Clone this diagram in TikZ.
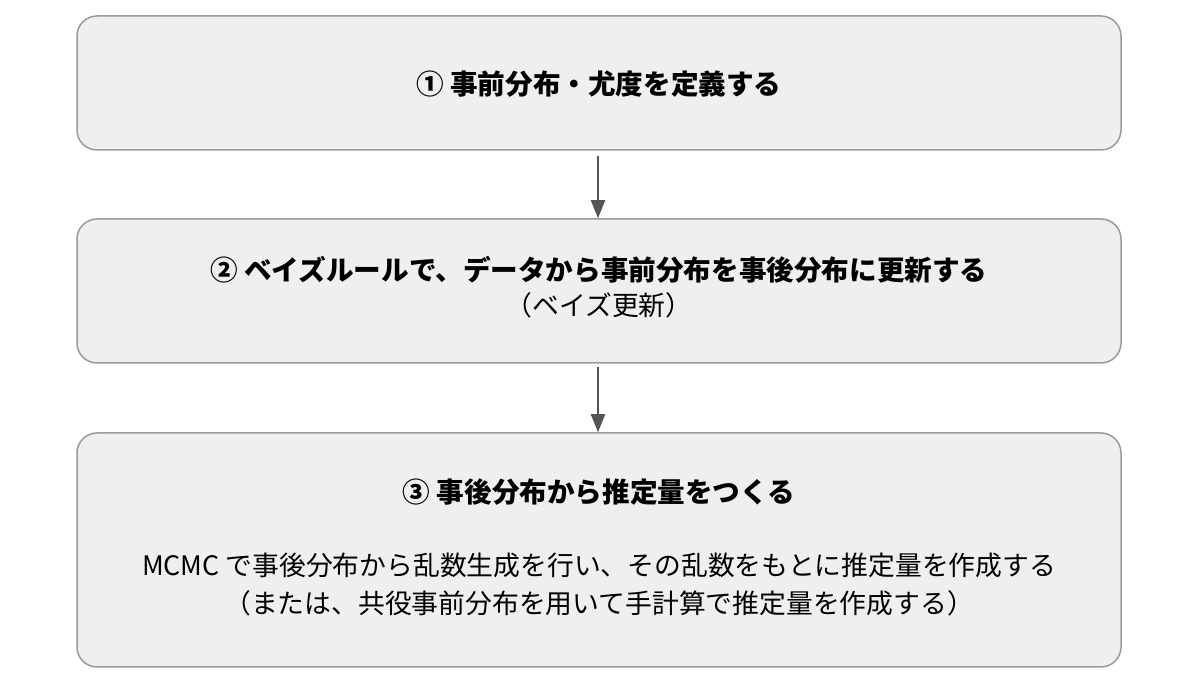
\documentclass[tikz,border=0pt]{standalone}
\usepackage{fontspec}
\setmainfont{Noto Sans CJK JP}
\usepackage{tikz}
\usetikzlibrary{arrows.meta,positioning,calc}
\definecolor{boxfill}{HTML}{EFEFEF}
\definecolor{boxline}{HTML}{9A9A9A}
\definecolor{arrline}{HTML}{555555}

\begin{document}
\begin{tikzpicture}[x=0.5pt,y=-0.5pt,%
        stepbox/.style={draw=boxline, fill=boxfill, line width=0.75pt,
          rounded corners=10pt, minimum width=522pt, inner sep=0pt},
        head/.style={font=\fontsize{13.8pt}{16pt}\selectfont\bfseries},
        body/.style={font=\fontsize{13.4pt}{19pt}\selectfont, align=center},
        flow/.style={draw=arrline, line width=1pt, -{Triangle[length=9pt,width=7pt]}}]

        \useasboundingbox (0,0) rectangle (1200,688);

        %% boxes
        \node [stepbox, minimum height=67pt] (box_1) at (599,83) {};
        \node [stepbox, minimum height=72pt] (box_2) at (599,291) {};
        \node [stepbox, minimum height=117pt] (box_3) at (599,550) {};

        %% texts
        \node [head] (head_1) at (599,84) {① 事前分布・尤度を定義する};
        \node [head] (head_2) at (599,270) {② ベイズルールで、データから事前分布を事後分布に更新する};
        \node [body] (body_2) at (599,305) {（ベイズ更新）};
        \node [head] (head_3) at (599,492) {③ 事後分布から推定量をつくる};
        \node [body] (body_3) at (599,585) {MCMC で事後分布から乱数生成を行い、その乱数をもとに推定量を作成する\\
          （または、共役事前分布を用いて手計算で推定量を作成する）};

        %% arrows
        \draw [flow, shorten <=2.5pt] (box_1.south -| 598,0) -- (box_2.north -| 598,0);
        \draw [flow, shorten <=1.5pt] (box_2.south -| 598,0) -- (box_3.north -| 598,0);

\end{tikzpicture}
\end{document}
